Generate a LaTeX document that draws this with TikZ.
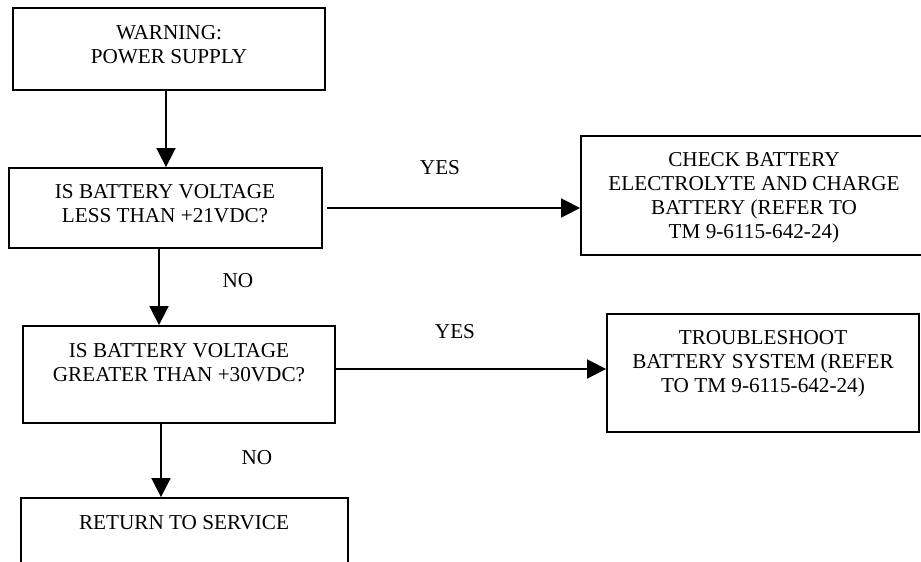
\documentclass[tikz,border=0pt]{standalone}
\usepackage{fontspec}
\setmainfont{Liberation Serif}
\usetikzlibrary{positioning,arrows.meta}

\begin{document}
\begin{tikzpicture}[x=0.5pt, y=-0.5pt, font=\fontsize{10.6}{12}\selectfont,
  box/.style={draw, line width=0.9pt, inner sep=0pt},
  txt/.style={align=center, inner sep=0pt},
  arr/.style={-{Triangle[length=9.5pt, width=9.5pt]}, line width=0.85pt}]
\useasboundingbox (0,0) rectangle (921,562);
\clip (0,0) rectangle (921,562);
% boxes of the left column
\node[box, minimum width=156pt, minimum height=41pt] (warn) at (169,49) {};
\node[box, minimum width=156.5pt, minimum height=40pt] (lowv) at (165.5,208) {};
\node[box, minimum width=156pt, minimum height=48.5pt] (highv) at (179,374.5) {};
\node[box, minimum width=163.5pt, minimum height=51pt] (ret) at (184.5,549) {};
% boxes on the right
\node[box, minimum width=173pt, minimum height=59.5pt] (check) at (754,195.5) {};
\node[box, minimum width=156pt, minimum height=59pt] (trouble) at (763,373) {};
% texts
\node[txt] (warnt) at (169,45) {WARNING:\\POWER SUPPLY};
\node[txt] (lowvt) at (165,204) {IS BATTERY VOLTAGE\\LESS THAN +21VDC?};
\node[txt] (highvt) at (179,363) {IS BATTERY VOLTAGE\\GREATER THAN +30VDC?};
\node[txt] (rett) at (184,523) {RETURN TO SERVICE};
\node[txt] (checkt) at (754,198) {CHECK BATTERY\\ELECTROLYTE AND CHARGE\\BATTERY (REFER TO\\TM 9-6115-642-24)};
\node[txt] (troublet) at (763,364) {TROUBLESHOOT\\BATTERY SYSTEM (REFER\\TO TM 9-6115-642-24)};
\node[txt] (yes1) at (440,168) {YES};
\node[txt] (yes2) at (455,332) {YES};
\node[txt] (no1) at (238,281) {NO};
\node[txt] (no2) at (257,458) {NO};
% connectors
\draw[arr] ([xshift=0.25pt]warn.south -| lowv.north) -- ([xshift=0.25pt]lowv.north);
\draw[arr] ([xshift=-3.25pt]lowv.south) -- ([xshift=-3.25pt]lowv.south |- highv.north);
\draw[arr] ([xshift=-9pt]highv.south) -- ([xshift=-9pt]highv.south |- ret.north);
\draw[arr, shorten <=2pt] (lowv.east) -- (lowv.east -| check.west);
\draw[arr] ([yshift=2.75pt]highv.east) -- ([yshift=2.75pt]highv.east -| trouble.west);
\end{tikzpicture}
\end{document}
